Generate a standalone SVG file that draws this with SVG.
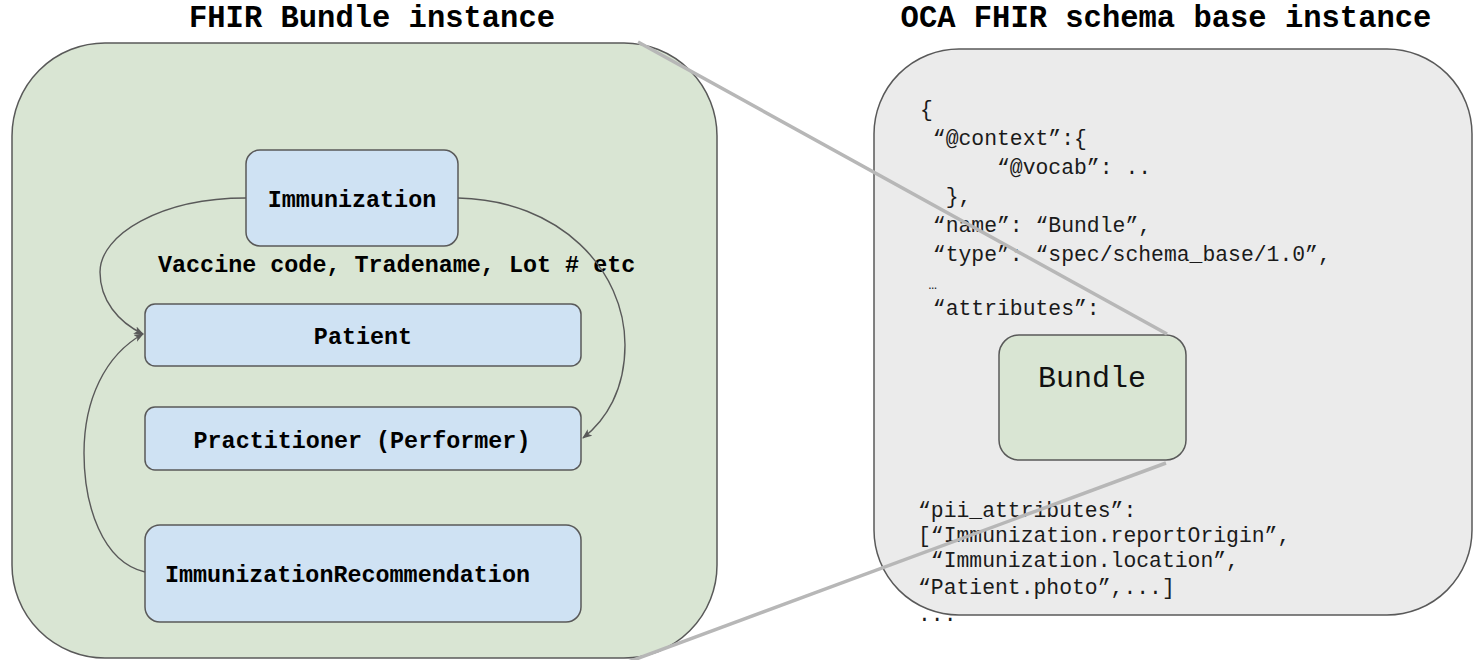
<svg xmlns="http://www.w3.org/2000/svg" width="1474" height="660" viewBox="0 0 1474 660">
  <style>
    .title { font-family: "Liberation Mono", "Courier New", monospace; font-weight: bold; font-size: 30.5px; fill: #000; text-anchor: middle; }
    .node { fill: #cfe2f3; stroke: #595959; stroke-width: 1.5; }
    .ntext { font-family: "Liberation Mono", "Courier New", monospace; font-weight: bold; font-size: 23.4px; fill: #000; }
    .code { font-family: "Liberation Mono", "Courier New", monospace; font-size: 21.4px; fill: #1a1a1a; }
    .conn { fill: none; stroke: #595959; stroke-width: 1.4; }
    .zoom { fill: none; stroke: #b7b7b7; stroke-width: 3.5; }
  </style>
  <defs>
    <marker id="arr" viewBox="0 0 10 8" refX="9" refY="4" markerWidth="10" markerHeight="8" markerUnits="userSpaceOnUse" orient="auto">
      <path d="M0,0 L10,4 L0,8 L2.5,4 z" fill="#595959"/>
    </marker>
  </defs>

  <text class="title" x="372" y="27">FHIR Bundle instance</text>
  <text class="title" x="1166" y="27">OCA FHIR schema base instance</text>

  <g id="fhir-bundle">
    <rect x="12" y="43" width="705" height="615" rx="93" ry="93" fill="#d9e5d3" stroke="#595959" stroke-width="1.5"/>
  </g>

  <g id="immunization">
    <rect class="node" x="246" y="150" width="212" height="96" rx="14"/>
    <text class="ntext" x="352" y="207" text-anchor="middle">Immunization</text>
  </g>
  <g id="vaccine-label">
    <text class="ntext" x="158" y="272">Vaccine code, Tradename, Lot # etc</text>
  </g>
  <g id="patient">
    <rect class="node" x="145" y="304" width="436" height="62" rx="10"/>
    <text class="ntext" x="363" y="344" text-anchor="middle">Patient</text>
  </g>
  <g id="practitioner">
    <rect class="node" x="145" y="407" width="436" height="63" rx="10"/>
    <text class="ntext" x="362" y="448" text-anchor="middle">Practitioner (Performer)</text>
  </g>
  <g id="immunization-recommendation">
    <rect class="node" x="145" y="525" width="436" height="97" rx="15"/>
    <text class="ntext" x="165" y="582">ImmunizationRecommendation</text>
  </g>

  <g id="connectors">
    <path class="conn" d="M246,198 C160,198 100,235 100,272 C100,300 118,322 143,334" marker-end="url(#arr)"/>
    <path class="conn" d="M458,198 C560,200 625,270 625,345 C625,390 606,420 583,438" marker-end="url(#arr)"/>
    <path class="conn" d="M145,572 C102,562 84,505 84,453 C84,400 105,355 143,334" marker-end="url(#arr)"/>
  </g>

  <g id="oca-schema">
    <rect x="874" y="49" width="598" height="566" rx="85" ry="85" fill="#ebebeb" stroke="#595959" stroke-width="1.5"/>
    <text class="code" xml:space="preserve" x="920" y="116">{</text>
    <text class="code" xml:space="preserve" x="920" y="145"> “@context”:{</text>
    <text class="code" xml:space="preserve" x="920" y="174">      “@vocab”: ..</text>
    <text class="code" xml:space="preserve" x="920" y="203">  },</text>
    <text class="code" xml:space="preserve" x="920" y="232"> “name”: “Bundle”,</text>
    <text class="code" xml:space="preserve" x="920" y="261"> “type”: “spec/schema_base/1.0”,</text>
    <text class="code" xml:space="preserve" x="920" y="289" style="font-size:14px"> …</text>
    <text class="code" xml:space="preserve" x="920" y="315"> “attributes”:</text>
    <text class="code" x="918" y="517">“pii_attributes”:</text>
    <text class="code" x="918" y="542">[“Immunization.reportOrigin”,</text>
    <text class="code" xml:space="preserve" x="918" y="567"> “Immunization.location”,</text>
    <text class="code" x="918" y="594">“Patient.photo”,...]</text>
    <text class="code" x="918" y="621">...</text>
  </g>

  <g id="bundle">
    <rect x="999" y="335" width="187" height="125" rx="20" fill="#d9e5d3" stroke="#595959" stroke-width="1.5"/>
    <text x="1092" y="387" text-anchor="middle" font-family="Liberation Mono, Courier New, monospace" font-size="30px" fill="#111">Bundle</text>
  </g>

  <g id="zoom-lines">
    <line class="zoom" x1="638" y1="42" x2="1167" y2="334"/>
    <line class="zoom" x1="628" y1="662" x2="1166" y2="463"/>
  </g>
</svg>
